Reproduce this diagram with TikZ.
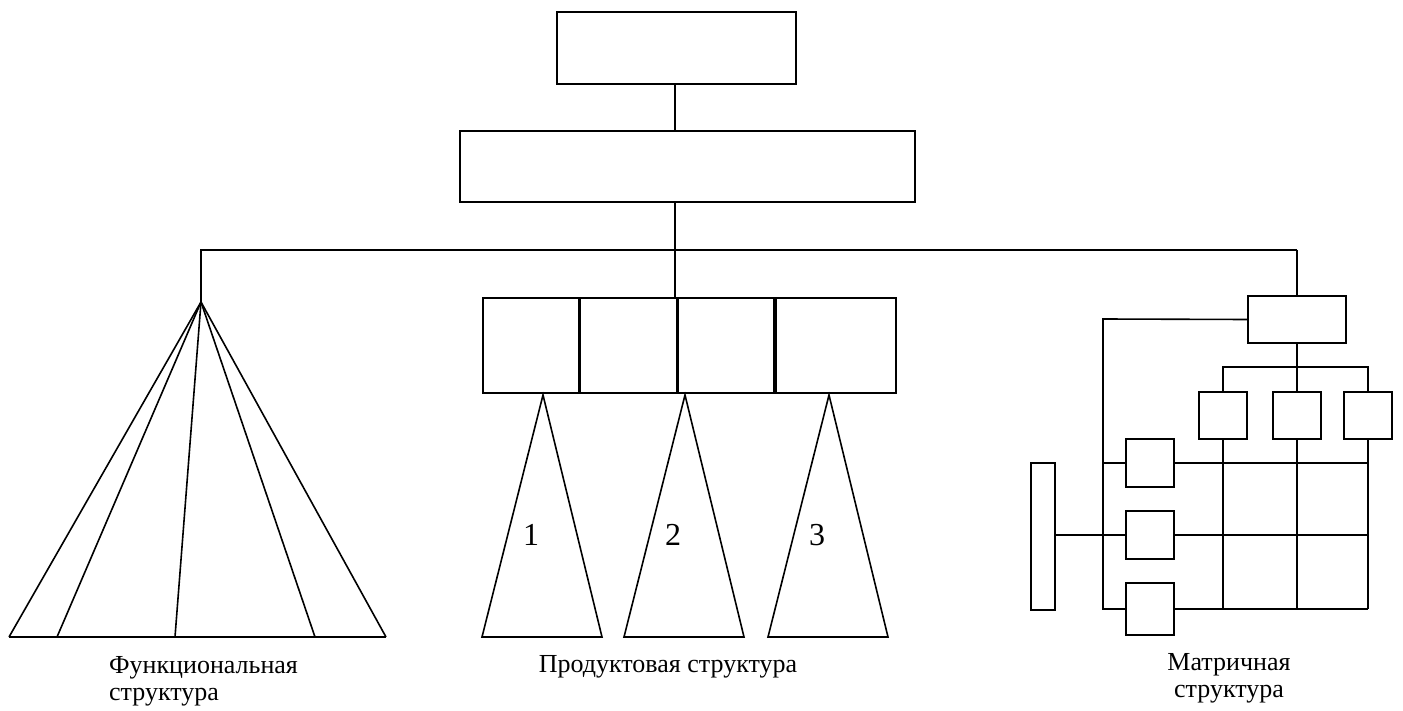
\documentclass[tikz,border=0pt]{standalone}
\usepackage{fontspec}
\setmainfont{Liberation Serif}
\usetikzlibrary{positioning}

\begin{document}
\begin{tikzpicture}
  [
    x                  = 1pt,
    y                  = -1pt,
    line width         = 1.6pt,
    box/.style         = {draw, inner sep=0pt},
    cell/.style        = {box, minimum width=#1, minimum height=95pt},
    small/.style       = {box, minimum width=48pt, minimum height=47pt},
    every node/.style  = {font=\fontsize{26}{27}\selectfont}
  ]
  \useasboundingbox (0,0) rectangle (1403,711);

  % upper levels
  \node[box, minimum width=239pt, minimum height=72pt] (head) at (676.5,48) {};
  \node[box, minimum width=455pt, minimum height=71pt] (staff) at (687.5,166.5) {};
  \coordinate (hub) at (675,250);
  \draw (hub |- head.south) -- (hub |- staff.north);
  \draw (hub |- staff.south) -- (hub);

  % functional structure
  \coordinate (apex) at (201,302);
  \draw (apex) -- (apex |- hub) -- (1297,250);
  \foreach \bx in {9, 57, 175, 315, 386}
    \draw (apex) -- (\bx,637);
  \draw (9,637) -- (386,637);
  \node[anchor=base west, align=left] (funlbl) at (105,700)
    {Функциональная\\структура};

  % product structure
  \node[cell=96pt] (p1) at (531,345.5) {};
  \node[cell=96pt, right=0pt of p1] (p2) {};
  \node[cell=96pt, right=0pt of p2] (p3) {};
  \node[cell=120pt, right=0pt of p3] (p4) {};
  \draw (hub) -- (hub |- p2.north);
  \foreach \ax/\n in {543/1, 685/2, 829/3} {
    \draw (\ax,395) -- (\ax-61,637) -- (\ax+59,637) -- cycle;
    \node[font=\fontsize{32}{32}\selectfont] (num\n) at (\ax-12,535) {\n};
  }
  \node[anchor=base] (prodlbl) at (668,672) {Продуктовая структура};

  % matrix structure
  \node[box, minimum width=98pt, minimum height=47pt] (mhead) at (1297,319.5) {};
  \draw (1297,250) -- (mhead.north);
  \node[small] (d1) at (1223,415.5) {};
  \node[small] (d2) at (1297,415.5) {};
  \node[small] (d3) at (1368,415.5) {};
  \coordinate (split) at (1297,367);
  \draw (mhead.south) -- (d2.north);
  \draw (d1.north) -- (d1.north |- split) -- (d3.north |- split) -- (d3.north);

  \node[small, minimum height=48pt] (r1) at (1150,463) {};
  \node[small, minimum height=48pt] (r2) at (1150,535) {};
  \node[small, minimum height=52pt] (r3) at (1150,609) {};
  \node[box, minimum width=24pt, minimum height=147pt] (bar) at (1043,536.5) {};

  \coordinate (bus) at (1103,319);
  \draw (mhead.west) -- (bus) -- (bus |- r3.west) -- (r3.west);
  \draw (bus |- r1.west) -- (r1.west);
  \draw (bar.east |- r2.west) -- (r2.west);
  \foreach \r in {r1, r2, r3}
    \draw (\r.east) -- (d3.south |- \r.east);
  \foreach \d in {d1, d2, d3}
    \draw (\d.south) -- (\d.south |- r3.east);
  \node[anchor=base, align=center] (matlbl) at (1229,697)
    {Матричная\\структура};
\end{tikzpicture}
\end{document}
